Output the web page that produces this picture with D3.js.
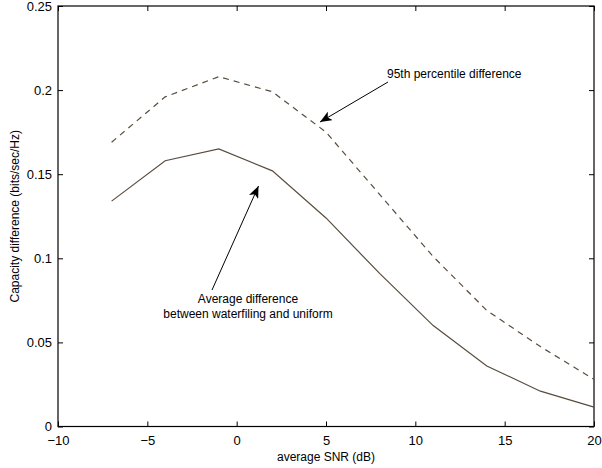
<!DOCTYPE html>
<html>
<head>
<meta charset="utf-8">
<script src="https://cdn.jsdelivr.net/npm/d3@7"></script>
<style>
  body { margin: 0; background: #fff; }
  text { font-family: "Liberation Sans", Arial, sans-serif; fill: #000; }
</style>
</head>
<body>
<div id="chart"></div>
<script>
// data
var snr = [-7, -4, -1, 2, 5, 8, 11, 14, 17, 20];
var avgDiff = [0.134, 0.158, 0.165, 0.152, 0.124, 0.091, 0.060, 0.036, 0.021, 0.0115];
var pct95Diff = [0.169, 0.196, 0.208, 0.199, 0.175, 0.138, 0.101, 0.069, 0.0475, 0.028];
var xTicks = [-10, -5, 0, 5, 10, 15, 20];
var yTicks = [0, 0.05, 0.1, 0.15, 0.2, 0.25];

var W = 602, H = 468;
var plotL = 58, plotR = 594, plotT = 6, plotB = 426.5;

var svg = d3.select("#chart").append("svg")
  .attr("width", W).attr("height", H);

var x = d3.scaleLinear().domain([-10, 20]).range([plotL, plotR]);
var y = d3.scaleLinear().domain([0, 0.25]).range([plotB, plotT]);

var lineColor = "#594c3e";

// arrow marker
svg.append("defs").append("marker")
  .attr("id", "arrow")
  .attr("viewBox", "0 0 12 10")
  .attr("refX", 12).attr("refY", 5)
  .attr("markerWidth", 12).attr("markerHeight", 10)
  .attr("markerUnits", "userSpaceOnUse")
  .attr("orient", "auto")
  .append("path")
  .attr("d", "M0,0 L12,5 L0,10 L3,5 Z")
  .attr("fill", "#000");

// axes: ticks inward on all four sides
function fmt(d) { return d3.format("")(d).replace("-", "\u2212"); }

svg.append("g")
  .attr("transform", "translate(0," + plotB + ")")
  .call(d3.axisBottom(x).tickValues(xTicks).tickSize(-5).tickPadding(9).tickFormat(fmt))
  .call(function(g) {
    g.select(".domain").remove();
    g.selectAll("text").attr("font-size", 13).attr("font-family", "Liberation Sans, Arial, sans-serif");
  });

svg.append("g")
  .attr("transform", "translate(0," + plotT + ")")
  .call(d3.axisTop(x).tickValues(xTicks).tickSize(-5).tickFormat(""))
  .call(function(g) { g.select(".domain").remove(); });

svg.append("g")
  .attr("transform", "translate(" + plotL + ",0)")
  .call(d3.axisLeft(y).tickValues(yTicks).tickSize(-5).tickPadding(6).tickFormat(d3.format("")))
  .call(function(g) {
    g.select(".domain").remove();
    g.selectAll("text").attr("font-size", 13).attr("font-family", "Liberation Sans, Arial, sans-serif");
  });

svg.append("g")
  .attr("transform", "translate(" + plotR + ",0)")
  .call(d3.axisRight(y).tickValues(yTicks).tickSize(-5).tickFormat(""))
  .call(function(g) { g.select(".domain").remove(); });

// box
svg.append("rect")
  .attr("x", plotL).attr("y", plotT)
  .attr("width", plotR - plotL).attr("height", plotB - plotT)
  .attr("fill", "none").attr("stroke", "#000").attr("stroke-width", 1.2);

// lines
var line = d3.line()
  .x(function(d) { return x(d[0]); })
  .y(function(d) { return y(d[1]); });

svg.append("path")
  .datum(d3.zip(snr, pct95Diff))
  .attr("d", line)
  .attr("fill", "none")
  .attr("stroke", lineColor)
  .attr("stroke-width", 1.2)
  .attr("stroke-dasharray", "6,5");

svg.append("path")
  .datum(d3.zip(snr, avgDiff))
  .attr("d", line)
  .attr("fill", "none")
  .attr("stroke", lineColor)
  .attr("stroke-width", 1.2);

// axis labels
svg.append("text")
  .attr("x", (plotL + plotR) / 2).attr("y", 461)
  .attr("text-anchor", "middle").attr("font-size", 12)
  .text("average SNR (dB)");

svg.append("text")
  .attr("transform", "translate(19," + ((plotT + plotB) / 2) + ") rotate(-90)")
  .attr("text-anchor", "middle").attr("font-size", 12)
  .text("Capacity difference (bits/sec/Hz)");

// annotations
svg.append("text")
  .attr("x", 387).attr("y", 78)
  .attr("font-size", 12)
  .text("95th percentile difference");

svg.append("line")
  .attr("x1", 388).attr("y1", 82)
  .attr("x2", 320).attr("y2", 122)
  .attr("stroke", "#000").attr("stroke-width", 1)
  .attr("marker-end", "url(#arrow)");

svg.append("text")
  .attr("x", 248).attr("y", 303)
  .attr("text-anchor", "middle").attr("font-size", 12)
  .text("Average difference");

svg.append("text")
  .attr("x", 248).attr("y", 318)
  .attr("text-anchor", "middle").attr("font-size", 12)
  .text("between waterfiling and uniform");

svg.append("line")
  .attr("x1", 212).attr("y1", 290)
  .attr("x2", 258.5).attr("y2", 186)
  .attr("stroke", "#000").attr("stroke-width", 1)
  .attr("marker-end", "url(#arrow)");
</script>
</body>
</html>
